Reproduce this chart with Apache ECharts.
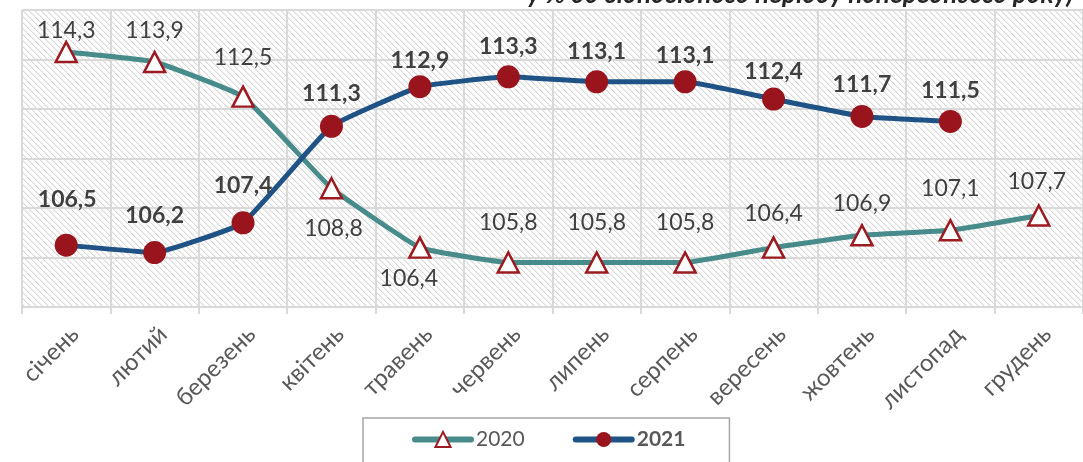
<!DOCTYPE html>
<html>
<head>
<meta charset="utf-8">
<script src="https://cdn.jsdelivr.net/npm/echarts@6/dist/echarts.min.js"></script>
<style>
html,body{margin:0;padding:0;background:#fff;}
#c{width:1083px;height:462px;}
</style>
</head>
<body>
<div id="c"></div>
<script>
var categories = ['січень','лютий','березень','квітень','травень','червень','липень','серпень','вересень','жовтень','листопад','грудень'];
var values2020 = [114.3,113.9,112.5,108.8,106.4,105.8,105.8,105.8,106.4,106.9,107.1,107.7];
var values2021 = [106.5,106.2,107.4,111.3,112.9,113.3,113.1,113.1,112.4,111.7,111.5,null];
var seriesNames = ['2020','2021'];
var titleText = 'у % до відповідного періоду попереднього року)';

// label placement tweaks (offset from point centre)
var lab2020 = [[0,-21],[0,-31],[0,-39],[2,40],[-11,31],[0,-40],[0,-40],[0,-40],[0,-34],[0,-32],[0,-42],[-2,-34]];
var lab2021 = [[1,-46],[0,-37],[0,-37],[0,-33],[0,-26],[0,-30],[0,-30],[0,-26],[0,-28],[0,-32],[0,-31],[0,0]];

var FONT = 'Lato, "Noto Sans", sans-serif';

function hatch(){
  var c = document.createElement('canvas');
  c.width = 6; c.height = 6;
  var g = c.getContext('2d');
  g.fillStyle = '#ffffff'; g.fillRect(0,0,6,6);
  for (var i=0;i<6;i++){
    g.fillStyle = '#d8d8d8'; g.fillRect(i,i,1,1);
    g.fillStyle = '#f0f0f0'; g.fillRect((i+1)%6,i,1,1);
  }
  return c;
}

function mk(vals, offs){
  return vals.map(function(v,i){
    return {value:v, label:{offset:offs[i]}};
  });
}

var chart = echarts.init(document.getElementById('c'), null, {renderer:'canvas'});
chart.setOption({
  animation:false,
  textStyle:{fontFamily:FONT},
  graphic:[{
    type:'text', left:527, top:-18,
    style:{text:titleText, font:'italic bold 26px ' + FONT, fill:'#262626'}
  }],
  grid:{left:22, right:-7, top:10, bottom:155, show:true,
        backgroundColor:{image:hatch(), repeat:'repeat'}, borderWidth:0},
  legend:{
    left:363, top:418,
    padding:[11,44,40,49],
    borderColor:'#a6a6a6', borderWidth:1.5,
    itemWidth:56, itemHeight:19, itemGap:48,
    lineStyle:{width:6, cap:'round'},
    textStyle:{fontSize:21, color:'#595959', fontFamily:FONT},
    data:[{name:seriesNames[0]},{name:seriesNames[1], textStyle:{fontWeight:'bold'}}]
  },
  xAxis:{
    type:'category', data:categories, boundaryGap:true,
    axisLine:{show:true, lineStyle:{color:'#d9d9d9', width:2}},
    axisTick:{show:true, length:7, lineStyle:{color:'#d9d9d9', width:2}},
    splitLine:{show:true, lineStyle:{color:'#d9d9d9', width:2}},
    axisLabel:{rotate:45, fontSize:24, color:'#595959', margin:15, interval:0, fontFamily:FONT,
               verticalAlign:'top'}
  },
  yAxis:{
    type:'value', min:104, max:116, interval:2,
    axisLabel:{show:false}, axisTick:{show:false},
    axisLine:{show:false},
    splitLine:{show:true, lineStyle:{color:'#d9d9d9', width:2}}
  },
  series:[{
    name:seriesNames[0], type:'line', data:mk(values2020, lab2020),
    smooth:0.1, symbol:'triangle', symbolSize:[21,20],
    lineStyle:{color:'#478b8b', width:5},
    itemStyle:{color:'#ffffff', borderColor:'#9b1b20', borderWidth:2.5},
    label:{show:true, position:'inside', fontSize:23, color:'#404040', fontFamily:FONT,
           formatter:function(p){return String(p.value).replace('.',',');}},
    z:2
  },{
    name:seriesNames[1], type:'line', data:mk(values2021, lab2021),
    smooth:0.1, symbol:'circle', symbolSize:23,
    lineStyle:{color:'#1f5386', width:5},
    itemStyle:{color:'#99141c', borderWidth:0},
    label:{show:true, position:'inside', fontSize:23, fontWeight:'bold', color:'#404040', fontFamily:FONT,
           formatter:function(p){return p.value==null?'':String(p.value).replace('.',',');}},
    z:3
  }]
});
</script>
</body>
</html>
